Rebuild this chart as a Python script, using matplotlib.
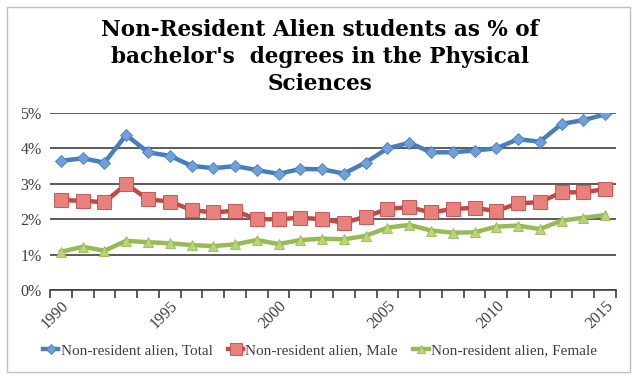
import matplotlib
matplotlib.use('Agg')
import matplotlib.pyplot as plt
from matplotlib.patches import Rectangle
from matplotlib.ticker import FuncFormatter, FixedLocator

years = list(range(1990, 2016))

total = [3.65, 3.72, 3.60, 4.38, 3.89, 3.79, 3.51, 3.44, 3.50, 3.39, 3.28, 3.42, 3.41,
         3.29, 3.60, 4.00, 4.16, 3.89, 3.89, 3.94, 4.00, 4.26, 4.19, 4.69, 4.80, 4.96]
male = [2.54, 2.52, 2.48, 2.99, 2.56, 2.50, 2.26, 2.19, 2.24, 2.00, 2.00, 2.04, 2.00,
        1.90, 2.07, 2.29, 2.34, 2.19, 2.29, 2.32, 2.23, 2.45, 2.48, 2.76, 2.76, 2.85]
female = [1.08, 1.22, 1.11, 1.39, 1.35, 1.32, 1.27, 1.24, 1.29, 1.41, 1.30, 1.41, 1.45,
          1.43, 1.53, 1.76, 1.84, 1.68, 1.62, 1.63, 1.79, 1.82, 1.72, 1.96, 2.04, 2.12]

labels = ['Non-resident alien, Total', 'Non-resident alien, Male', 'Non-resident alien, Female']
title = "Non-Resident Alien students as % of\nbachelor's  degrees in the Physical\nSciences"

serif = ['Liberation Serif', 'DejaVu Serif']

fig = plt.figure(figsize=(6.4, 3.84), dpi=100)

# outer chart border (Excel style)
border = Rectangle((7 / 640, 12 / 384), 623 / 640, 365 / 384, transform=fig.transFigure,
                   facecolor='none', edgecolor='#bfbfbf', linewidth=1.0, zorder=-1)
fig.patches.append(border)

ax = fig.add_axes([50 / 640, 1 - 290 / 384, 566 / 640, 177 / 384])
ax.set_facecolor('none')

x = list(range(len(years)))
ax.plot(x, total, color='#4a7ebb', lw=3.2, marker='D', ms=6,
        mfc='#6fa0dc', mec='#4a7ebb', mew=0.6, label=labels[0], zorder=4)
ax.plot(x, male, color='#be4b48', lw=3.2, marker='s', ms=10,
        mfc='#e8807c', mec='#be4b48', mew=0.6, label=labels[1], zorder=3)
ax.plot(x, female, color='#98b954', lw=3.2, marker='^', ms=7.5,
        mfc='#b5d77a', mec='#98b954', mew=0.6, label=labels[2], zorder=3)

ax.set_xlim(-0.5, len(years) - 0.5)
ax.set_ylim(0, 5)
ax.set_yticks([0, 1, 2, 3, 4, 5])
ax.yaxis.set_major_formatter(FuncFormatter(lambda v, p: f'{int(v)}%'))
ax.grid(axis='y', color='#404040', lw=1.2)
ax.set_axisbelow(True)

for s in ['top', 'right', 'left']:
    ax.spines[s].set_visible(False)
ax.spines['bottom'].set_color('#404040')
ax.spines['bottom'].set_linewidth(1.2)

ax.tick_params(axis='y', length=0, pad=6, labelsize=11.5, labelcolor='#404040')
ax.xaxis.set_major_locator(FixedLocator([i - 0.5 for i in range(len(years) + 1)]))
ax.xaxis.set_major_formatter(FuncFormatter(lambda v, p: ''))
ax.xaxis.set_minor_locator(FixedLocator([i for i in range(0, len(years), 5)]))
ax.xaxis.set_minor_formatter(FuncFormatter(lambda v, p: str(years[int(round(v))])))
ax.tick_params(axis='x', which='major', length=6, width=1.2, color='#404040', direction='out')
ax.tick_params(axis='x', which='minor', length=0, pad=6, labelsize=11.5, labelcolor='#404040')
for t in ax.get_xticklabels(minor=True):
    t.set_rotation(45)
    t.set_ha('right')
    t.set_va('top')
    t.set_rotation_mode('anchor')
for t in ax.get_yticklabels() + ax.get_xticklabels(minor=True):
    t.set_family(serif)

fig.text(0.5, 1 - 57 / 384, title, ha='center', va='center', fontsize=15.5,
         fontweight='bold', family=['DejaVu Serif'], linespacing=1.3)

leg = fig.legend(loc='center', bbox_to_anchor=(0.5, 1 - 350 / 384), ncol=3, frameon=False,
                 prop={'family': serif, 'size': 11}, handlelength=1.0, handletextpad=0.15,
                 columnspacing=1.0, markerscale=0.8)
for t in leg.get_texts():
    t.set_color('#404040')

plt.savefig('out.png', dpi=100)
